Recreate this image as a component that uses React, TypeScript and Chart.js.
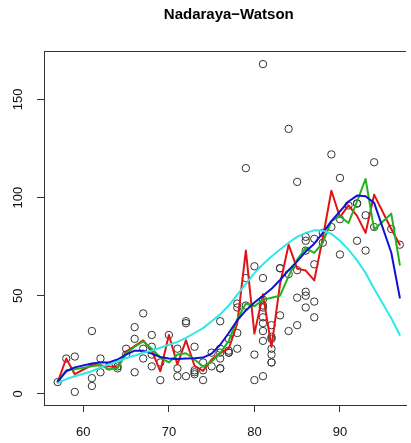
import React, { useEffect, useRef } from 'react';
import { Chart, registerables } from 'chart.js';

Chart.register(...registerables);

const chartTitle = 'Nadaraya\u2212Watson';

// Observations (Temp, Ozone)
const temps = [
  67, 72, 74, 62, 66, 65, 59, 61, 74, 69, 66, 68, 58, 64, 66, 57, 68, 62, 59, 73, 61, 61, 67, 81, 79, 76,
  82, 90, 87, 82, 77, 72, 65, 73, 76,
  84, 85, 81, 83, 83, 88, 92, 92, 89, 73, 81, 80, 81, 82, 84, 87, 85, 74, 86, 85, 82, 86, 88, 86, 83, 81,
  81, 81, 82, 86, 85, 87, 89, 90, 90, 86, 82, 80, 77, 79, 76, 78, 78, 77, 72, 79, 81, 86, 97, 94, 96, 94,
  91, 92, 93, 93, 87, 84, 80, 78, 75, 73, 81, 76, 77, 71, 71, 78, 67, 76, 68, 82, 64, 71, 81, 69, 63, 70, 75, 76, 68,
];
const ozone = [
  41, 36, 12, 18, 28, 23, 19, 8, 7, 16, 11, 14, 18, 14, 34, 6, 30, 11, 1, 11, 4, 32, 23, 45, 115, 37,
  29, 71, 39, 23, 21, 37, 20, 12, 13,
  135, 49, 32, 64, 40, 77, 97, 97, 85, 10, 27, 7, 48, 35, 61, 79, 63, 16, 80, 108, 20, 52, 82, 50, 64, 59,
  39, 9, 16, 78, 35, 66, 122, 89, 110, 44, 28, 65, 22, 59, 23, 31, 44, 21, 9, 45, 168, 73, 76, 118, 84, 85,
  96, 78, 73, 91, 47, 32, 20, 23, 21, 24, 44, 21, 28, 9, 13, 46, 18, 13, 24, 16, 13, 23, 36, 7, 14, 30, 14, 18, 20,
];

// Smoother evaluation points and fitted values
const fitX = [57, 58, 59, 61, 62, 63, 64, 65, 66, 67, 68, 69, 70, 71, 72, 73, 74, 75, 76, 77, 78, 79, 80,
  81, 82, 83, 84, 85, 86, 87, 88, 89, 90, 91, 92, 93, 94, 96, 97];
const redFit = [6, 18, 10, 14.7, 14.5, 14, 13.5, 21.5, 24.3, 27.3, 22, 11.5, 30, 15, 27.3, 14.3, 11.7, 17.5, 20.8, 23, 36, 73, 30.7,
  50.7, 23.9, 56, 76, 63.8, 62.8, 57.8, 79.5, 103.5, 90, 96, 90.7, 82, 101.5, 84, 76];
const greenFit = [6.3, 12, 12.5, 14, 14.8, 12.5, 13, 20.5, 24, 26.7, 23, 18.5, 16, 20, 20.7, 17.5, 13.9, 16.5, 20.7, 27, 38, 46, 44.6,
  48, 49, 50, 60, 68.4, 74.3, 71.8, 77, 88, 90.5, 87, 98, 109.5, 83.7, 91.8, 65.8];
const blueFit = [6.3, 11.5, 13.5, 15.5, 16, 16, 17.5, 20, 22, 22, 20.5, 18.8, 18, 17.8, 18, 18.2, 18.5, 20.5, 25, 31, 37.5, 42.5, 46.5,
  50, 53.5, 58, 63, 67.5, 72.5, 76.5, 82, 88, 93, 98, 101, 100.7, 97.3, 72, 49];
const cyanFit = [5.5, 7.5, 9, 11.5, 13.5, 15, 16.5, 18.2, 19.5, 21, 22, 23.5, 25, 26.5, 28.5, 31, 33.5, 37, 40.5, 45, 50.5, 56, 61.5,
  66, 70, 73.5, 77, 80, 82, 83.3, 83.2, 81.5, 78, 73.5, 68, 61.6, 53.5, 38.5, 30];

const xTicks = [60, 70, 80, 90];
const yTicks = [0, 50, 100, 150];
const xRange = [55.4, 98.6];
const yRange = [-5.68, 174.68];

const lineColors = { red: '#e01414', green: '#1fb41f', blue: '#1010d0', cyan: '#2ee8e8' };
const FONT = "'Liberation Sans', Arial, Helvetica, sans-serif";

function pairs(xs: number[], ys: number[]) {
  return xs.map((x, i) => ({ x, y: ys[i] }));
}

const framePlugin = {
  id: 'rframe',
  afterDraw(chart: any) {
    const { ctx, chartArea, scales } = chart;
    const xs = scales.x;
    const ys = scales.y;
    ctx.save();
    // top edge of the box
    ctx.strokeStyle = '#333';
    ctx.lineWidth = 1;
    ctx.beginPath();
    ctx.moveTo(chartArea.left, Math.round(chartArea.top) + 0.5);
    ctx.lineTo(chartArea.right, Math.round(chartArea.top) + 0.5);
    ctx.stroke();
    // tick labels
    ctx.fillStyle = '#111';
    ctx.font = `13px ${FONT}`;
    ctx.textAlign = 'center';
    ctx.textBaseline = 'middle';
    xTicks.forEach((v) => {
      ctx.fillText(String(v), xs.getPixelForValue(v), chartArea.bottom + 27);
    });
    yTicks.forEach((v) => {
      ctx.save();
      ctx.translate(chartArea.left - 26, ys.getPixelForValue(v));
      ctx.rotate(-Math.PI / 2);
      ctx.fillText(String(v), 0, 0);
      ctx.restore();
    });
    // title, centred over the full plot region
    ctx.font = `bold 15px ${FONT}`;
    ctx.fillStyle = '#000';
    const cx = (xs.getPixelForValue(xRange[0]) + xs.getPixelForValue(xRange[1])) / 2;
    ctx.fillText(chartTitle, cx, 15);
    ctx.restore();
  },
};

export default function App() {
  const ref = useRef<HTMLCanvasElement | null>(null);
  useEffect(() => {
    if (!ref.current) return;
    const lineDs = (data: number[], color: string, order: number) => ({
      type: 'line' as const,
      data: pairs(fitX, data),
      borderColor: color,
      backgroundColor: color,
      borderWidth: 2,
      borderJoinStyle: 'round',
      borderCapStyle: 'round',
      pointRadius: 0,
      fill: false,
      tension: 0,
      order,
    });
    const chart = new Chart(ref.current, {
      type: 'scatter',
      data: {
        datasets: [
          {
            data: pairs(temps, ozone),
            pointStyle: 'circle',
            pointRadius: 3.7,
            borderColor: '#333',
            backgroundColor: 'rgba(0,0,0,0)',
            borderWidth: 1,
            order: 10,
          } as any,
          lineDs(redFit, lineColors.red, 4),
          lineDs(greenFit, lineColors.green, 3),
          lineDs(blueFit, lineColors.blue, 2),
          lineDs(cyanFit, lineColors.cyan, 1),
        ],
      },
      options: {
        animation: false,
        responsive: true,
        maintainAspectRatio: false,
        layout: { padding: { top: 51, left: 0, right: 0, bottom: 0 } },
        plugins: { legend: { display: false }, title: { display: false }, tooltip: { enabled: false } },
        events: [],
        scales: {
          x: {
            type: 'linear',
            min: xRange[0],
            max: xRange[0] + (xRange[1] - xRange[0]) * (367 / 374.6),
            ticks: { display: false },
            grid: { display: true, drawOnChartArea: false, drawTicks: true, tickLength: 7, color: '#333' },
            border: { display: true, color: '#333', width: 1 },
            afterBuildTicks: (s: any) => { s.ticks = xTicks.map((v) => ({ value: v })); },
            afterFit: (s: any) => { s.height = 38; },
          },
          y: {
            type: 'linear',
            min: yRange[0],
            max: yRange[1],
            ticks: { display: false },
            grid: { display: true, drawOnChartArea: false, drawTicks: true, tickLength: 7, color: '#333' },
            border: { display: true, color: '#333', width: 1 },
            afterBuildTicks: (s: any) => { s.ticks = yTicks.map((v) => ({ value: v })); },
            afterFit: (s: any) => { s.width = 44; },
          },
        },
      },
      plugins: [framePlugin],
    } as any);
    return () => chart.destroy();
  }, []);
  return (
    <div style={{ position: 'absolute', left: 0, top: 0, width: 411, height: 443, background: '#fff' }}>
      <canvas ref={ref} />
    </div>
  );
}
